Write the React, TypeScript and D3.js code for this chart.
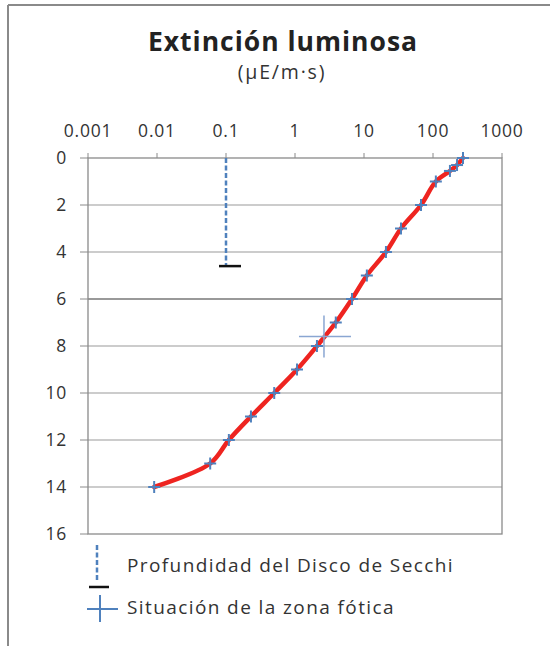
import * as d3 from "d3";

const depths = [0, 0.3, 0.55, 1, 2, 3, 4, 5, 6, 7, 8, 9, 10, 11, 12, 13, 14];
const light = [272, 223, 176, 110, 67, 34.4, 20.8, 11, 6.7, 3.9, 2.08, 1.07, 0.5, 0.23, 0.11, 0.059, 0.0091];

const xTicks = [0.001, 0.01, 0.1, 1, 10, 100, 1000];
const xTickLabels = ["0.001", "0.01", "0.1", "1", "10", "100", "1000"];
const yTicks = [0, 2, 4, 6, 8, 10, 12, 14, 16];

const secchiValue = 0.1;
const secchiDepth = 4.6;
const photicValue = 2.63;
const photicDepth = 7.6;

const width = 550;
const height = 646;
const marginLeft = 88;
const marginRight = 48;
const marginTop = 158;
const marginBottom = 112;

const font = "'Open Sans', Lato, sans-serif";

const App = () => {
  const x = d3
    .scaleLog()
    .domain([0.001, 1000])
    .range([marginLeft, width - marginRight]);
  const y = d3
    .scaleLinear()
    .domain([0, 16])
    .range([marginTop, height - marginBottom]);

  const pts = depths.map((d, i) => [x(light[i]), y(d)] as [number, number]);
  const line = d3.line().curve(d3.curveCatmullRom.alpha(0.5))(pts) ?? "";

  const x0 = x.range()[0];
  const x1 = x.range()[1];
  const y0 = y.range()[0];
  const y1 = y.range()[1];

  return (
    <svg
      width={width}
      height={height}
      viewBox={`0 0 ${width} ${height}`}
      style={{ position: "absolute", left: 0, top: 0, background: "#fff" }}
    >
      {/* outer frame */}
      <line x1={8} x2={width} y1={5} y2={5} stroke="#8a8a8a" strokeWidth={2} />
      <line x1={8} x2={8} y1={5} y2={height} stroke="#8a8a8a" strokeWidth={2} />

      <text x={283} y={51} textAnchor="middle" fontFamily={font} fontWeight="bold" fontSize={26.5} letterSpacing={1} fill="#222">
        Extinción luminosa
      </text>
      <text x={282} y={79} textAnchor="middle" fontFamily={font} fontSize={19.5} letterSpacing={1.8} fill="#333">
        (µE/m·s)
      </text>

      {/* grid */}
      {yTicks.slice(1, -1).map((t) => (
        <line key={t} x1={x0} x2={x1} y1={y(t)} y2={y(t)} stroke={t === 6 ? "#777" : "#9a9a9a"} strokeWidth={t === 6 ? 1.6 : 1.2} />
      ))}
      <rect x={x0} y={y0} width={x1 - x0} height={y1 - y0} fill="none" stroke="#8a8a8a" strokeWidth={1.3} />

      {/* x axis on top */}
      {xTicks.map((t, i) => (
        <g key={t}>
          <line x1={x(t)} x2={x(t)} y1={y0 - 5} y2={y0} stroke="#8a8a8a" />
          <text x={x(t)} y={137} textAnchor="middle" fontFamily={font} fontSize={17.5} letterSpacing={0.8} fill="#333">
            {xTickLabels[i]}
          </text>
        </g>
      ))}

      {/* y axis */}
      {yTicks.map((t) => (
        <g key={t}>
          <line x1={x0 - 8} x2={x0} y1={y(t)} y2={y(t)} stroke="#8a8a8a" />
          <text x={67} y={y(t)} dy="0.35em" textAnchor="end" fontFamily={font} fontSize={17.5} letterSpacing={0.8} fill="#333">
            {t}
          </text>
        </g>
      ))}

      {/* Secchi depth */}
      <line x1={x(secchiValue)} x2={x(secchiValue)} y1={y(0)} y2={y(secchiDepth)} stroke="#4f81bd" strokeWidth={2.5} strokeDasharray="5,2.5" />
      <line x1={x(secchiValue) - 7} x2={x(secchiValue) + 15} y1={y(secchiDepth)} y2={y(secchiDepth)} stroke="#111" strokeWidth={2.5} />

      {/* light curve */}
      <path d={line} fill="none" stroke="#ee2420" strokeWidth={4.5} strokeLinecap="round" />
      {pts.map(([px, py], i) => (
        <g key={i} stroke="#4f81bd" strokeWidth={2}>
          <line x1={px - 6} x2={px + 6} y1={py} y2={py} />
          <line x1={px} x2={px} y1={py - 6} y2={py + 6} />
        </g>
      ))}

      {/* photic zone */}
      <g stroke="#8aa6d2" strokeWidth={1.5}>
        <line x1={x(photicValue) - 25} x2={x(photicValue) + 27} y1={y(photicDepth)} y2={y(photicDepth)} />
        <line x1={x(photicValue)} x2={x(photicValue)} y1={y(photicDepth) - 21} y2={y(photicDepth) + 21} />
      </g>

      {/* legend */}
      <line x1={97} x2={97} y1={545} y2={582} stroke="#4f81bd" strokeWidth={2.5} strokeDasharray="5,2.5" />
      <line x1={89} x2={109} y1={587} y2={587} stroke="#111" strokeWidth={2.5} />
      <text x={127} y={565} dy="0.35em" fontFamily={font} fontSize={19} letterSpacing={1.4} fill="#333">
        Profundidad del Disco de Secchi
      </text>
      <g stroke="#4f81bd" strokeWidth={2}>
        <line x1={87} x2={118} y1={609} y2={609} />
        <line x1={100} x2={100} y1={595} y2={622} />
      </g>
      <text x={127} y={607} dy="0.35em" fontFamily={font} fontSize={19} letterSpacing={1.4} fill="#333">
        Situación de la zona fótica
      </text>
    </svg>
  );
};

export default App;
